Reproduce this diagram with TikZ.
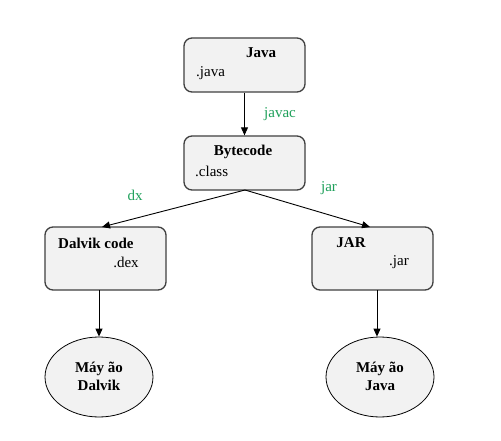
\documentclass[tikz,border=0pt]{standalone}
\usepackage{fontspec}
\setmainfont{Liberation Serif}
\usetikzlibrary{shapes.geometric,arrows.meta}
\definecolor{boxfill}{RGB}{242,242,242}
\definecolor{boxline}{RGB}{64,64,64}
\definecolor{lblgreen}{RGB}{30,160,90}
\tikzset{
  procbox/.style={draw=boxline, line width=1.3pt, fill=boxfill, rounded corners=8pt, minimum width=121pt, minimum height=54pt, inner sep=0pt},
  vmnode/.style={draw=black, line width=0.8pt, fill=boxfill, ellipse, minimum width=108pt, minimum height=80pt, inner sep=0pt},
  txt/.style={font=\fontsize{15}{18}\selectfont, inner sep=0pt},
  btxt/.style={font=\fontsize{15}{18}\selectfont\bfseries, inner sep=0pt},
  edgelbl/.style={font=\fontsize{15}{18}\selectfont, text=lblgreen, inner sep=0pt},
  conn/.style={draw=black, line width=0.9pt, -{Triangle[length=8pt,width=7pt]}}
}
\begin{document}
\begin{tikzpicture}[x=1pt,y=-1pt]
\useasboundingbox[fill=white] (0,0) rectangle (501,441);
% boxes
\node[procbox] (java) at (244.5,65) {};
\node[procbox] (byte) at (244.5,163) {};
\node[procbox, minimum height=63pt] (dalvik) at (105.5,258.5) {};
\node[procbox, minimum height=63pt] (jar) at (372.5,258.5) {};
\node[vmnode] (vmd) at (99,377) {};
\node[vmnode] (vmj) at (380,377) {};
% texts
\node[btxt] (javat) at (261,53) {Java};
\node[txt, anchor=west] (javas) at (196,73) {.java};
\node[btxt] (bytet) at (243,152) {Bytecode};
\node[txt, anchor=west] (bytes) at (195,171) {.class};
\node[btxt, anchor=west] (dalt) at (58,243) {Dalvik code};
\node[txt] (dals) at (126,262) {.dex};
\node[btxt] (jart) at (351,243) {JAR};
\node[txt] (jars) at (399,262) {.jar};
\node[btxt, align=center] (vmdt) at (99,376) {Máy ão\\Dalvik};
\node[btxt, align=center] (vmjt) at (380,376) {Máy ão\\Java};
% connectors
\coordinate (bb) at (245,190);
\coordinate (dtop) at (102,227);
\coordinate (jtop) at (370,227);
\coordinate (dalbot) at (99,290);
\coordinate (jarbot) at (377,290);
\draw[conn] (java.south) -- (byte.north);
\draw[conn] (bb) -- (dtop);
\draw[conn] (bb) -- (jtop);
\draw[conn] (dalbot) -- (vmd.north -| dalbot);
\draw[conn] (jarbot) -- (vmj.north -| jarbot);
% edge labels
\node[edgelbl] (l1) at (280,114) {javac};
\node[edgelbl] (l2) at (135,195) {dx};
\node[edgelbl] (l3) at (329,188) {jar};
\end{tikzpicture}
\end{document}
